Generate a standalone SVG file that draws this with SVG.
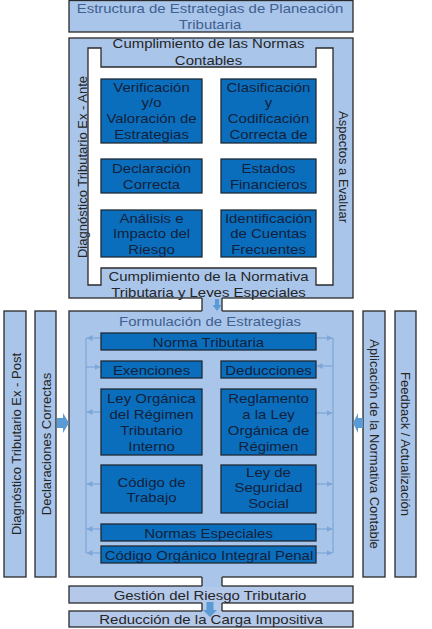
<svg xmlns="http://www.w3.org/2000/svg" width="432" height="629" viewBox="0 0 432 629">
<style>
.lb{fill:#A9C5EA;stroke:#2a2a2a;stroke-width:1.3}
.lb2{fill:#B4C8EA;stroke:#2a2a2a;stroke-width:1.3}
.db{fill:#0A6EBD;stroke:#1e2a36;stroke-width:1.3}
.wh{fill:#ffffff;stroke:#2a2a2a;stroke-width:1.3}
.t{font-family:"Liberation Sans",Arial,sans-serif;font-size:13px;text-anchor:middle;fill:#262626}
.tb{fill:#40608F}
.tn{fill:#13213a}
.ln{fill:none;stroke:#7EA6D8;stroke-width:1.2}
.ar{fill:#5B9BD5}
.cf{fill:#A9C5EA}
.cl{stroke:#2a2a2a;stroke-width:1.3}
</style>
<defs>
<marker id="ah" markerUnits="userSpaceOnUse" markerWidth="6" markerHeight="6" refX="6" refY="3" orient="auto"><path d="M0,0 L6,3 L0,6 z" fill="#7EA6D8"/></marker>
<clipPath id="c1"><rect x="101" y="79" width="101" height="64"/></clipPath>
<clipPath id="c2"><rect x="221" y="79" width="95" height="64"/></clipPath>
<clipPath id="c3"><rect x="101" y="210" width="101" height="47"/></clipPath>
<clipPath id="c4"><rect x="221" y="465" width="95" height="48"/></clipPath>
</defs>

<g id="titulo">
<rect class="lb" x="69" y="0.5" width="284" height="31.5"/>
<text class="t tb" transform="translate(210,13) scale(1.15,1)">Estructura de Estrategias de Planeación</text>
<text class="t tb" transform="translate(210,29) scale(1.15,1)">Tributaria</text>
</g>

<g id="diagnostico-ex-ante">
<rect class="lb" x="69" y="38" width="284" height="260"/>
<path class="wh" d="M88,48 H101 V67 H316 V48 H333 V285 H316 V268 H101 V285 H88 Z"/>
<text class="t" transform="translate(87,167) rotate(-90)">Diagnóstico Tributario Ex - Ante</text>
<text class="t" transform="translate(339,167) rotate(90)">Aspectos a Evaluar</text>
<text class="t" transform="translate(208.5,47.5) scale(1.15,1)">Cumplimiento de las Normas</text>
<text class="t" transform="translate(208.5,64.5) scale(1.15,1)">Contables</text>
<text class="t" transform="translate(208.5,280.5) scale(1.15,1)">Cumplimiento de la Normativa</text>
<text class="t" transform="translate(208.5,296.5) scale(1.15,1)">Tributaria y Leyes Especiales</text>
</g>

<g id="verificacion">
<rect class="db" x="101" y="79" width="101" height="64"/>
<g clip-path="url(#c1)"><text class="t tn" transform="translate(151.5,91.5) scale(1.15,1)"><tspan x="0">Verificación</tspan><tspan x="0" dy="16">y/o</tspan><tspan x="0" dy="16">Valoración de</tspan><tspan x="0" dy="16">Estrategias</tspan></text></g>
</g>
<g id="clasificacion">
<rect class="db" x="221" y="79" width="95" height="64"/>
<g clip-path="url(#c2)"><text class="t tn" transform="translate(268.5,91.5) scale(1.15,1)"><tspan x="0">Clasificación</tspan><tspan x="0" dy="16">y</tspan><tspan x="0" dy="16">Codificación</tspan><tspan x="0" dy="16">Correcta de</tspan></text></g>
</g>
<g id="declaracion">
<rect class="db" x="101" y="159" width="101" height="34"/>
<text class="t tn" transform="translate(151.5,172.5) scale(1.15,1)"><tspan x="0">Declaración</tspan><tspan x="0" dy="16.5">Correcta</tspan></text>
</g>
<g id="estados">
<rect class="db" x="221" y="159" width="95" height="34"/>
<text class="t tn" transform="translate(268.5,172.5) scale(1.15,1)"><tspan x="0">Estados</tspan><tspan x="0" dy="16.5">Financieros</tspan></text>
</g>
<g id="analisis">
<rect class="db" x="101" y="210" width="101" height="47"/>
<g clip-path="url(#c3)"><text class="t tn" transform="translate(151.5,222.5) scale(1.15,1)"><tspan x="0">Análisis e</tspan><tspan x="0" dy="16">Impacto del</tspan><tspan x="0" dy="16">Riesgo</tspan></text></g>
</g>
<g id="identificacion">
<rect class="db" x="221" y="210" width="95" height="47"/>
<text class="t tn" transform="translate(268.5,222.5) scale(1.15,1)"><tspan x="0">Identificación</tspan><tspan x="0" dy="16">de Cuentas</tspan><tspan x="0" dy="16">Frecuentes</tspan></text>
</g>

<g id="diagnostico-ex-post">
<rect class="lb" x="4" y="311" width="22" height="266"/>
<text class="t" transform="translate(21,444) rotate(-90)">Diagnóstico Tributario Ex - Post</text>
</g>
<g id="declaraciones-correctas">
<rect class="lb" x="35" y="311" width="21" height="266"/>
<text class="t" transform="translate(51,444) rotate(-90)">Declaraciones Correctas</text>
</g>
<g id="aplicacion-normativa">
<rect class="lb" x="363" y="311" width="22" height="266"/>
<text class="t" transform="translate(370,444) rotate(90)">Aplicación de la Normativa Contable</text>
</g>
<g id="feedback">
<rect class="lb" x="395" y="311" width="21" height="266"/>
<text class="t" transform="translate(401,444) rotate(90)">Feedback / Actualización</text>
</g>

<g id="formulacion">
<rect class="lb" x="69" y="311" width="284" height="266"/>
<text class="t tb" transform="translate(210,325.5) scale(1.15,1)">Formulación de Estrategias</text>
</g>

<g id="conectores">
<path class="ln" d="M86,338 V553 M333,338 V553"/>
<path class="ln" marker-end="url(#ah)" d="M101,338 H86.5"/>
<path class="ln" marker-end="url(#ah)" d="M86,367 H100.5"/>
<path class="ln" marker-end="url(#ah)" d="M101,412 H86.5"/>
<path class="ln" marker-end="url(#ah)" d="M101,484 H86.5"/>
<path class="ln" marker-end="url(#ah)" d="M101,529 H86.5"/>
<path class="ln" marker-end="url(#ah)" d="M101,553 H86.5"/>
<path class="ln" marker-end="url(#ah)" d="M316,338 H332.5"/>
<path class="ln" marker-end="url(#ah)" d="M333,366 H316.5"/>
<path class="ln" marker-end="url(#ah)" d="M316,413 H332.5"/>
<path class="ln" marker-end="url(#ah)" d="M316,484 H332.5"/>
<path class="ln" marker-end="url(#ah)" d="M316,529 H332.5"/>
<path class="ln" marker-end="url(#ah)" d="M316,553 H332.5"/>
<rect class="cf" x="202" y="297" width="20" height="15"/>
<path class="cl" d="M202,298 V311 M222,298 V311"/>
<path class="ar" d="M215,299 H219 V305 H221.5 L217,311 L212.5,305 H215 Z"/>
<path class="ar" d="M57,418 H63 V413 L69,423 L63,433 V428 H57 Z"/>
<path class="ar" d="M363,418 H358 V413 L353,423 L358,433 V428 H363 Z"/>
</g>

<g id="norma-tributaria">
<rect class="db" x="101" y="333" width="215" height="17"/>
<text class="t tn" transform="translate(208.5,346.5) scale(1.15,1)">Norma Tributaria</text>
</g>
<g id="exenciones">
<rect class="db" x="101" y="361" width="101" height="17"/>
<text class="t tn" transform="translate(151.5,374.5) scale(1.15,1)">Exenciones</text>
</g>
<g id="deducciones">
<rect class="db" x="221" y="361" width="95" height="17"/>
<text class="t tn" transform="translate(268.5,374.5) scale(1.15,1)">Deducciones</text>
</g>
<g id="ley-organica">
<rect class="db" x="101" y="389" width="101" height="66"/>
<text class="t tn" transform="translate(151.5,402.5) scale(1.15,1)"><tspan x="0">Ley Orgánica</tspan><tspan x="0" dy="16.3">del Régimen</tspan><tspan x="0" dy="16.3">Tributario</tspan><tspan x="0" dy="16.3">Interno</tspan></text>
</g>
<g id="reglamento">
<rect class="db" x="221" y="389" width="95" height="66"/>
<text class="t tn" transform="translate(268.5,402.5) scale(1.15,1)"><tspan x="0">Reglamento</tspan><tspan x="0" dy="16.3">a la Ley</tspan><tspan x="0" dy="16.3">Orgánica de</tspan><tspan x="0" dy="16.3">Régimen</tspan></text>
</g>
<g id="codigo-trabajo">
<rect class="db" x="101" y="465" width="101" height="48"/>
<text class="t tn" transform="translate(151.5,486.5) scale(1.15,1)"><tspan x="0">Código de</tspan><tspan x="0" dy="16">Trabajo</tspan></text>
</g>
<g id="seguridad-social">
<rect class="db" x="221" y="465" width="95" height="48"/>
<g clip-path="url(#c4)"><text class="t tn" transform="translate(268.5,476.5) scale(1.15,1)"><tspan x="0">Ley de</tspan><tspan x="0" dy="16">Seguridad</tspan><tspan x="0" dy="16">Social</tspan></text></g>
</g>
<g id="normas-especiales">
<rect class="db" x="101" y="524" width="215" height="17"/>
<text class="t tn" transform="translate(208.5,537.5) scale(1.15,1)">Normas Especiales</text>
</g>
<g id="codigo-penal">
<rect class="db" x="101" y="546" width="215" height="17"/>
<text class="t tn" transform="translate(209,559.5) scale(1.15,1)">Código Orgánico Integral Penal</text>
</g>

<g id="gestion">
<rect class="lb2" x="69" y="586" width="284" height="17"/>
<text class="t" transform="translate(210,599.5) scale(1.15,1)">Gestión del Riesgo Tributario</text>
</g>
<g id="reduccion">
<rect class="lb2" x="69" y="611" width="284" height="16"/>
<text class="t" transform="translate(211,623.5) scale(1.15,1)">Reducción de la Carga Impositiva</text>
</g>

<g id="conectores-inferiores">
<rect class="cf" x="202" y="576" width="20" height="11"/>
<path class="cl" d="M202,577 V586 M222,577 V586"/>
<rect fill="#B4C8EA" x="202" y="602" width="20" height="10"/>
<path class="cl" d="M202,603 V611 M222,603 V611"/>
<path class="ar" d="M206.5,602 H213.5 V610 H217 L210,617 L203,610 H206.5 Z"/>
</g>
</svg>
